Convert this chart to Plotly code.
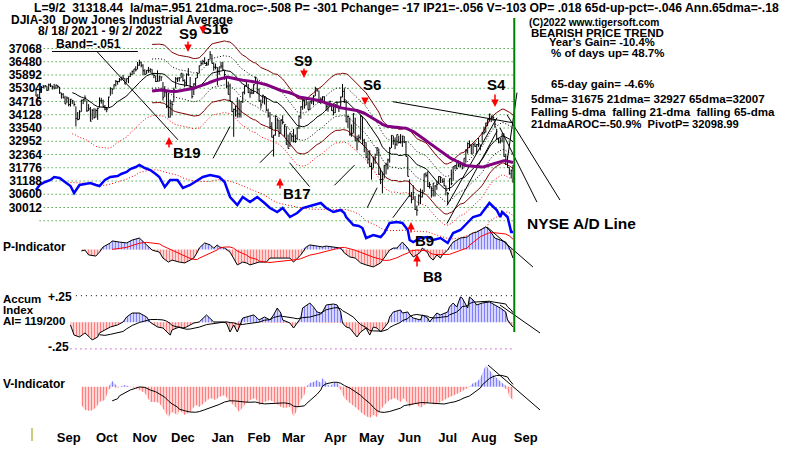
import plotly.graph_objects as go
import pandas as pd

# ---------------- DATA (trading-day index 0 = 2021-08-18 ... 263 = 2022-09-02) ----------------
close = [
 34961,34894,35120,35336,35367,35406,35214,35456,35400,35361,
 35313,35444,35369,35100,35031,34879,34608,34870,34578,34814,34751,34584,33970,33919,34258,34765,34798,34870,34300,34390,33844,
 34326,34002,34315,34417,34755,34746,34496,34378,34377,34912,35295,35259,35458,35609,35603,35677,35741,35757,35491,35731,35820,
 35913,36053,36158,36124,36328,36432,36320,36080,35921,36100,36087,36142,35931,35871,35602,35619,35814,35804,34899,35136,34484,
 34022,34640,34580,35227,35719,35754,35754,35971,35650,35544,35927,35898,35365,34932,35493,35754,35951,36302,36398,36488,36398,36338,
 36585,36800,36408,36236,36231,36069,36252,36290,36114,35912,35369,35029,34715,34265,34365,34298,34168,34161,34725,35132,
 35405,35630,35112,35090,35092,35463,35768,35242,34739,34566,34989,34934,34312,34079,33597,33132,33224,34059,33893,
 33295,33891,33795,33615,32818,32633,33286,33174,32944,32945,33545,34063,34481,34755,34553,34808,34358,34708,34861,34955,35294,35229,34678,
 34818,34922,34641,34497,34583,34721,34309,34221,34565,34451,34412,34911,35161,34793,33811,34049,33240,33302,34160,32977,
 33061,33129,34061,32998,32899,32246,32161,31834,31730,32197,32223,32655,31490,31254,31262,31880,31929,32120,32637,33213,32990,
 32813,33248,32900,32916,33180,32910,32273,31393,30517,30365,30668,29927,29889,30530,30484,30677,31501,31439,30947,31029,30775,
 31097,30968,31037,31385,31338,31173,30982,30773,30630,31289,31073,31828,31875,32037,31900,31990,31762,32198,32530,32845,
 32798,32397,32813,32727,32803,32833,32775,33310,33337,33761,33913,34152,33981,33999,33707,33064,32910,32970,33292,32283,32099,31791,31510,
 31656,31318]
high = [
 35300,35050,35150,35400,35450,35450,35410,35510,35520,35420,
 35500,35460,35450,35370,35110,35090,34970,34940,34900,34830,34790,34730,34500,34250,34330,34800,34820,34990,34760,34600,34470,
 34380,34420,34400,34440,34900,34880,34800,34560,34470,34930,35350,35290,35480,35670,35630,35760,35820,35900,35760,35740,35830,
 36000,36090,36160,36280,36470,36570,36490,36370,36150,36110,36250,36190,36150,35980,35860,36100,35870,35820,35580,35400,35200,
 35100,34800,34740,35330,35800,35780,35800,35980,35960,35700,35960,36200,35800,35300,35530,35760,36000,36310,36530,36570,36680,36480,
 36600,36950,36800,36450,36400,36240,36260,36470,36480,36100,35860,35600,35510,34720,34400,34530,34900,34800,34730,35140,
 35410,35640,35500,35240,35250,35480,35820,35700,35300,34800,35020,34960,34900,34400,34250,33800,33230,34100,34000,
 33900,33920,34100,33700,33600,33250,33340,33260,33500,33250,33560,34100,34500,34800,34800,34860,34700,34720,34880,35000,35370,35300,35200,
 34900,34950,34950,34640,34650,34750,34630,34600,34600,34700,34550,34940,35490,35300,34780,34100,34000,33700,34200,34000,
 33200,33250,34120,34050,33060,32900,32530,32550,32000,32270,32400,32700,32630,31750,31600,31900,32000,32180,32700,33220,33200,
 33120,33250,33200,33270,33200,33180,32950,32270,31260,30700,31000,30520,30100,30600,30850,30800,31510,31570,31620,31150,30950,
 31100,31000,31200,31400,31400,31300,31320,30980,30700,31300,31700,31830,31900,32040,32100,32050,31960,32200,32600,32900,
 32990,32800,32850,32900,32830,33100,32800,33350,33600,33770,33930,34180,34100,34100,33900,33500,33100,33100,33300,33300,32400,32300,31800,
 31700,31900]
low = [
 34950,34710,34850,35100,35300,35340,35180,35200,35360,35250,
 35250,35280,35290,35060,34840,34860,34600,34640,34500,34490,34600,34500,33610,33880,33920,34260,34600,34710,34260,34290,33830,
 33900,33960,34000,33900,34450,34620,34480,34320,34240,34450,34970,35040,35260,35380,35460,35570,35640,35690,35480,35550,35530,
 35800,35890,35920,36050,36140,36300,36230,35880,35900,35930,35990,35990,35920,35750,35580,35600,35600,35620,34760,34920,34420,
 34000,34000,34100,34680,35300,35580,35600,35760,35600,35350,35400,35850,35280,34850,35000,35400,35750,35960,36300,36350,36380,36300,
 36320,36580,36400,36080,36140,35430,35900,36170,36090,35680,35300,35020,34700,34260,33150,34050,34000,34000,34000,34650,
 35030,35370,35090,34880,35040,35050,35500,35060,34700,34400,34630,34580,34300,34000,33500,33120,32270,33200,33480,
 33140,33300,33700,33150,32800,32630,32700,32940,32900,32880,33000,33500,33950,34350,34400,34550,34350,34330,34600,34550,34950,35150,34650,
 34600,34700,34600,34310,34260,34480,34300,34100,34200,34420,34250,34400,34900,34650,33800,33550,33200,33150,33300,32950,
 32550,32900,33020,32800,32460,32200,31950,31800,31250,31750,31950,32300,31450,31050,30640,31300,31480,31700,32000,32650,32800,
 32600,32750,32850,32850,32700,32870,32270,31390,30500,30200,30360,29900,29650,30100,30160,30450,30700,31350,30920,30850,30450,
 30500,30500,30800,31050,31100,31100,30950,30550,30140,30750,31000,31200,31700,31700,31800,31800,31700,31800,32000,32400,
 32650,32390,32400,32700,32400,32700,32550,32900,33250,33340,33620,33830,33800,33850,33550,33030,32860,32850,32900,32270,31900,31780,31470,
 31300,31100]

month_labels = ["Sep", "Oct", "Nov", "Dec", "Jan", "Feb", "Mar", "Apr", "May", "Jun", "Jul", "Aug", "Sep"]
month_first_day = [10, 31, 52, 73, 95, 115, 134, 157, 177, 198, 219, 239, 262]
price_levels = [37068, 36480, 35892, 35304, 34716, 34128, 33540, 32952, 32364, 31776, 31188, 30600, 30012, 29424]

# NYSE A/D line (arbitrary units)
ad_day = [0,2,5,8,10,13,16,19,21,24,27,30,33,35,38,41,45,47,50,52,55,57,60,63,66,68,71,74,78,81,85,89,92,96,99,101,104,107,111,114,118,122,126,129,133,136,140,144,147,153,157,160,164,168,170,171,175,178,180,182,186,190,192,195,199,202,205,206,208,212,216,219,223,227,230,234,238,241,245,249,250,254,256,257,260,262,263]
ad_val = [200,250,280,300,330,320,280,240,170,250,260,270,250,240,300,330,340,360,380,410,430,450,420,400,360,330,230,300,300,220,250,300,330,350,340,330,280,130,50,130,80,130,70,20,-20,20,-70,-30,20,50,70,20,-20,0,-30,-70,-150,-160,-180,-280,-250,-270,-230,-130,-120,-130,-200,-300,-320,-280,-270,-300,-280,-330,-230,-200,-130,-70,-50,50,70,0,-70,-20,-70,-220,-220]

# P-Indicator
p_day = [25,27,29,33,35,37,41,42,46,50,53,57,61,64,68,70,73,75,79,82,85,87,89,90,93,96,98,100,101,104,107,109,111,114,116,118,122,123,127,129,133,136,140,142,144,146,149,151,155,158,160,164,168,170,173,176,179,182,186,190,192,195,197,199,202,205,206,208,210,212,213,216,217,219,221,223,224,227,228,230,234,238,239,241,243,245,248,250,253,256,259,261,263]
p_val = [-50,-20,-190,-230,-90,90,230,300,260,230,330,400,160,-20,-90,-300,-440,-370,-440,-470,-370,-300,-90,50,230,160,50,160,90,50,-90,-300,-540,-440,-470,-540,-470,-440,-440,-300,-300,-300,-300,-440,-300,-190,90,160,120,90,120,90,50,-120,-260,-300,-470,-540,-610,-470,-300,-20,50,50,260,50,-90,-260,-190,-90,50,-120,-260,-370,-190,-300,-190,-20,90,260,400,440,510,580,610,680,790,680,400,330,260,50,-300]

# Accumulation Index
ai_day = [19,21,24,27,30,31,34,35,38,41,45,48,50,53,57,61,63,67,70,72,74,75,79,81,83,85,87,90,94,98,100,103,105,107,109,111,114,116,120,122,123,126,129,131,133,135,136,140,142,144,146,147,151,153,155,157,158,160,164,166,168,169,171,173,175,177,179,182,184,186,188,190,191,194,195,197,201,202,205,206,208,210,212,213,216,217,219,221,223,227,228,230,232,234,235,238,239,241,243,246,250,253,256,259,260,262,263]
ai_val = [-0.025,-0.12,-0.138,-0.10,-0.148,-0.166,-0.138,-0.10,-0.072,-0.044,-0.025,0.003,0.05,0.087,0.087,0.05,0.0,-0.044,-0.054,-0.091,-0.12,-0.072,-0.044,-0.054,-0.044,-0.025,-0.007,0.003,0.069,0.003,0.003,0.003,-0.007,-0.091,-0.025,-0.091,0.04,0.05,0.069,0.04,0.022,0.05,0.022,0.069,0.134,0.087,0.022,-0.007,-0.054,-0.007,0.04,0.134,0.181,0.144,0.097,0.087,0.097,0.163,0.172,0.163,0.097,-0.007,-0.044,-0.054,-0.10,-0.138,-0.091,-0.054,-0.12,-0.044,-0.054,-0.091,-0.072,-0.007,0.05,0.097,0.116,0.087,0.097,0.069,0.04,0.031,0.022,0.069,0.04,0.003,0.05,0.087,0.069,0.097,0.144,0.181,0.144,0.238,0.228,0.134,0.238,0.21,0.163,0.181,0.191,0.163,0.134,0.097,0.022,-0.025,-0.044]

# V-Indicator
v_day = [25,27,30,33,35,38,40,42,45,46,49,52,55,57,60,63,66,68,71,73,75,78,79,82,85,88,90,93,96,99,101,104,107,110,112,115,118,121,123,126,129,132,135,137,140,142,144,146,148,149,151,153,155,157,158,160,162,164,166,168,170,173,176,179,181,184,186,188,190,192,195,198,201,203,206,209,212,214,217,220,223,225,228,231,234,236,239,241,243,245,246,248,250,252,254,256,257,260,261,263]
v_val = [-141,-179,-187,-164,-118,-102,-25,44,-10,-2,13,-2,-10,-25,-49,-118,-118,-126,-195,-233,-195,-218,-179,-218,-195,-141,-156,-118,-87,-102,-79,-64,-118,-156,-195,-141,-102,-87,-141,-118,-102,-126,-156,-164,-156,-233,-179,-102,-64,-2,28,36,52,28,67,36,-2,28,28,-25,-87,-126,-156,-195,-218,-241,-218,-233,-179,-141,-102,-87,-118,-87,-156,-126,-164,-141,-118,-141,-118,-102,-79,-64,-41,-25,-2,28,36,67,105,167,129,90,67,36,28,-25,-79,-102]

# price trend lines (day, price) -> (day, price)
tl_d0 = [8.8, 33.6, 196.8, 259.7, 255.8, 259.7, 97.6, 123.5, 139.8, 164.6, 182.6, 196.8, 226.6, 226.6]
tl_p0 = [36934, 36934, 34707, 34128, 33549, 32035, 32190, 32000, 32000, 31000, 30000, 29560, 29300, 30100]
tl_d1 = [56.2, 78.3, 263.0, 288.9, 276.2, 265.2, 107.0, 130.7, 150.8, 175.6, 188.1, 206.2, 254.2, 254.2]
tl_p1 = [36934, 33015, 33772, 30343, 30253, 35108, 33610, 32580, 30940, 31890, 30890, 30580, 33400, 34000]
# lower-panel trend lines
ptl = ([248.7, 274.0], [787, -612])
aitl = ([255.8, 277.9], [0.163, -0.10])
vtl = ([249.2, 277.9], [167, -179])

# ---------------- GEOMETRY ----------------
W, H = 800, 449
PXD = 477 / 263.0       # pixels per trading day
X0PX = 36.0             # pixel of day 0


def yr(v0, y0, k):
    """axis range so that value v0 sits at pixel row y0, k units per pixel"""
    return [v0 - (H - y0) * k, v0 + y0 * k]


def px(x, y):
    return x / W, 1 - y / H


n = len(close)
assert len(high) == n and len(low) == n
days = list(range(n))
s = pd.Series(close, dtype=float)
ma21 = s.rolling(21).mean()
ma65 = s.rolling(65).mean()


def band(f, start=0):
    return [ma21[i] * f if (i >= start and pd.notna(ma21[i])) else None for i in days]


fig = go.Figure()
GREEN = "#008000"

# grid lines
gx, gy = [], []
for lv in price_levels:
    gx += [2, n - 0.5, None]
    gy += [lv, lv, None]
fig.add_trace(go.Scatter(x=gx, y=gy, mode="lines", line=dict(color=GREEN, width=1, dash="1px,3px"), yaxis="y"))

# bands
fig.add_trace(go.Scatter(x=days, y=band(1.036, 64), mode="lines", line=dict(color="#800000", width=1), yaxis="y"))
fig.add_trace(go.Scatter(x=days, y=band(0.964, 64), mode="lines", line=dict(color="#800000", width=1), yaxis="y"))
fig.add_trace(go.Scatter(x=days, y=band(1.018, 64), mode="lines", line=dict(color="black", width=1, dash="1px,2px"), yaxis="y"))
fig.add_trace(go.Scatter(x=days, y=band(0.982, 64), mode="lines", line=dict(color="black", width=1, dash="1px,2px"), yaxis="y"))
fig.add_trace(go.Scatter(x=days, y=band(0.948), mode="lines", line=dict(color="red", width=1, dash="1px,2px"), yaxis="y"))
fig.add_trace(go.Scatter(x=days, y=band(1.0), mode="lines", line=dict(color="black", width=1), yaxis="y"))

# trend lines
tx, ty = [], []
for a, b, c, d in zip(tl_d0, tl_p0, tl_d1, tl_p1):
    tx += [a, c, None]
    ty += [b, d, None]
fig.add_trace(go.Scatter(x=tx, y=ty, mode="lines", line=dict(color="black", width=1), yaxis="y"))

# price bars
bx, by, cx, cy = [], [], [], []
for i in days:
    bx += [i, i, None]
    by += [low[i], high[i], None]
    cx += [i, i + 0.7, None]
    cy += [close[i], close[i], None]
fig.add_trace(go.Scatter(x=bx, y=by, mode="lines", line=dict(color="black", width=1), yaxis="y"))
fig.add_trace(go.Scatter(x=cx, y=cy, mode="lines", line=dict(color="black", width=1), yaxis="y"))

# 65-dma
fig.add_trace(go.Scatter(x=days, y=ma65, mode="lines", line=dict(color="#800080", width=3), yaxis="y"))

# A/D line
ad_ma = pd.Series(ad_val, dtype=float).rolling(8).mean()
fig.add_trace(go.Scatter(x=ad_day, y=ad_ma, mode="lines", line=dict(color="red", width=1, dash="1px,2px"), yaxis="y2"))
fig.add_trace(go.Scatter(x=ad_day, y=ad_val, mode="lines", line=dict(color="#0000ff", width=2.5), yaxis="y2"))


def hist(xs, vals, axis, outline, ma_color, ma_win):
    pos = [max(v, 0) for v in vals]
    neg = [min(v, 0) for v in vals]
    for part, col in ((pos, "#0000ff"), (neg, "#ff0000")):
        fig.add_trace(go.Scatter(
            x=xs, y=part, mode="lines", line=dict(width=0), fill="tozeroy",
            fillcolor="rgba(0,0,0,0)",
            fillpattern=dict(shape="|", fgcolor=col, bgcolor="rgba(0,0,0,0)", size=3, solidity=0.55),
            yaxis=axis))
    if outline:
        fig.add_trace(go.Scatter(x=xs, y=vals, mode="lines", line=dict(color="black", width=1), yaxis=axis))
    ma = pd.Series(vals, dtype=float).rolling(ma_win).mean()
    fig.add_trace(go.Scatter(x=xs, y=ma, mode="lines", line=dict(color=ma_color, width=1), yaxis=axis))


hist(p_day, p_val, "y3", True, "red", 8)
fig.add_trace(go.Scatter(x=ptl[0], y=ptl[1], mode="lines", line=dict(color="black", width=1), yaxis="y3"))

# AI reference lines
fig.add_trace(go.Scatter(x=[22, n], y=[0.25, 0.25], mode="lines", line=dict(color="black", width=1, dash="1px,4px"), yaxis="y4"))
fig.add_trace(go.Scatter(x=[19, n], y=[-0.25, -0.25], mode="lines", line=dict(color="#a000a0", width=1, dash="1px,4px"), yaxis="y4"))
hist(ai_day, ai_val, "y4", True, "black", 8)
fig.add_trace(go.Scatter(x=aitl[0], y=aitl[1], mode="lines", line=dict(color="black", width=1), yaxis="y4"))

hist(v_day, v_val, "y5", False, "black", 8)
fig.add_trace(go.Scatter(x=vtl[0], y=vtl[1], mode="lines", line=dict(color="black", width=1), yaxis="y5"))

# ---------------- LAYOUT ----------------
B = "Liberation Sans"
fig.update_layout(
    width=W, height=H, margin=dict(l=0, r=0, t=0, b=0),
    paper_bgcolor="white", plot_bgcolor="white", showlegend=False, hovermode=False,
    font=dict(family=B, color="black", size=12),
    xaxis=dict(range=[-X0PX / PXD, (W - X0PX) / PXD], showgrid=False, zeroline=False, showline=False,
               tickvals=[d + 8 for d in month_first_day], ticktext=["<b>%s</b>" % m for m in month_labels],
               ticks="", tickfont=dict(size=13, family=B, color="black"),
               anchor="free", position=1 - 428 / H),
    yaxis=dict(range=yr(37068, 48.5, 588 / 13.25), showgrid=False, zeroline=False, showline=False,
               tickvals=price_levels[:-1], ticktext=["<b>%d</b>" % v for v in price_levels[:-1]],
               ticks="", tickfont=dict(size=12, family=B, color="black"),
               anchor="free", position=42 / W, side="left"),
    yaxis2=dict(range=yr(0, 210, 10), overlaying="y", visible=False),
    yaxis3=dict(range=yr(0, 249.5, 35), overlaying="y", visible=False),
    yaxis4=dict(range=yr(0, 322.3, 0.0094), overlaying="y", visible=False),
    yaxis5=dict(range=yr(0, 386.7, 7.7), overlaying="y", visible=False),
)

# green end-of-data line and olive start tick
fig.add_shape(type="line", xref="x", yref="paper", x0=n - 0.3, x1=n - 0.3, y0=1 - 332 / H, y1=1 - 18 / H,
              line=dict(color=GREEN, width=2))
fig.add_shape(type="line", xref="paper", yref="paper", x0=32 / W, x1=32 / W, y0=1 - 441 / H, y1=1 - 428 / H,
              line=dict(color="#999900", width=1))


def txt(x, y, s, size=12, anchor="left", color="black"):
    ax_, ay_ = px(x, y)
    fig.add_annotation(x=ax_, y=ay_, xref="paper", yref="paper", text="<b>%s</b>" % s, showarrow=False,
                       xanchor=anchor, yanchor="middle", borderpad=0,
                       font=dict(size=size, family=B, color=color))


def arrow(x, y_head, y_tail, color="red"):
    ax_, ay_ = px(x, y_head)
    fig.add_annotation(x=ax_, y=ay_, xref="paper", yref="paper", ax=0, ay=y_tail - y_head, text="",
                       showarrow=True, arrowhead=2, arrowsize=1, arrowwidth=1.5, arrowcolor=color)


txt(33, 7.5, "L=9/2  31318.44  la/ma=.951 21dma.roc=-.508 P= -301 Pchange= -17 IP21=-.056 V=-103 OP= .018 65d-up-pct=-.046 Ann.65dma=-.18", size=12.2)
txt(10, 19.5, "DJIA-30  Dow Jones Industrial Average")
txt(37, 31, "8/ 18/ 2021 - 9/ 2/ 2022")
txt(55, 44, "Band=-.051")
txt(528, 22, "(C)2022 www.tigersoft.com", size=10.2)
txt(530, 32.5, "BEARISH PRICE TREND", size=11.5)
txt(548, 42, "Year's Gain= -10.4%", size=11.2)
txt(550, 53, "% of days up= 48.7%", size=11.5)
txt(550, 84, "65-day gain= -4.6%", size=11.5)
txt(530, 98, "5dma= 31675 21dma= 32927 65dma=32007", size=11.6)
txt(530, 111, "Falling 5-dma  falling 21-dma  falling 65-dma", size=11.6)
txt(530, 123.5, "21dmaAROC=-50.9%  PivotP= 32098.99", size=11.2)
txt(526, 223, "NYSE A/D Line", size=15.5)
txt(2, 247, "P-Indicator")
txt(2, 299, "Accum", size=11.5)
txt(2, 310, "Index", size=11.5)
txt(2, 321, "AI= 119/200", size=11.5)
txt(47, 297, "+.25")
txt(47, 347, "-.25")
txt(2, 384, "V-Indicator")

# signals
for x, y, s in [(188, 33, "S9"), (215, 28, "S16"), (303, 60, "S9"), (372, 84, "S6"), (496, 85, "S4"),
                (187, 153, "B19"), (297, 193, "B17"), (424, 240, "B9"), (432, 276, "B8")]:
    txt(x, y, s, size=15, anchor="center")
for x, yh, yt in [(188, 52, 40), (203, 34, 24), (304, 78, 67), (365, 105, 97), (495, 107, 93)]:
    arrow(x, yh, yt)
for x, yh, yt in [(169, 137, 149), (280, 178, 190), (411, 222, 234), (417, 254, 268)]:
    arrow(x, yh, yt)

fig.write_html("out.html", config={"displayModeBar": False})
